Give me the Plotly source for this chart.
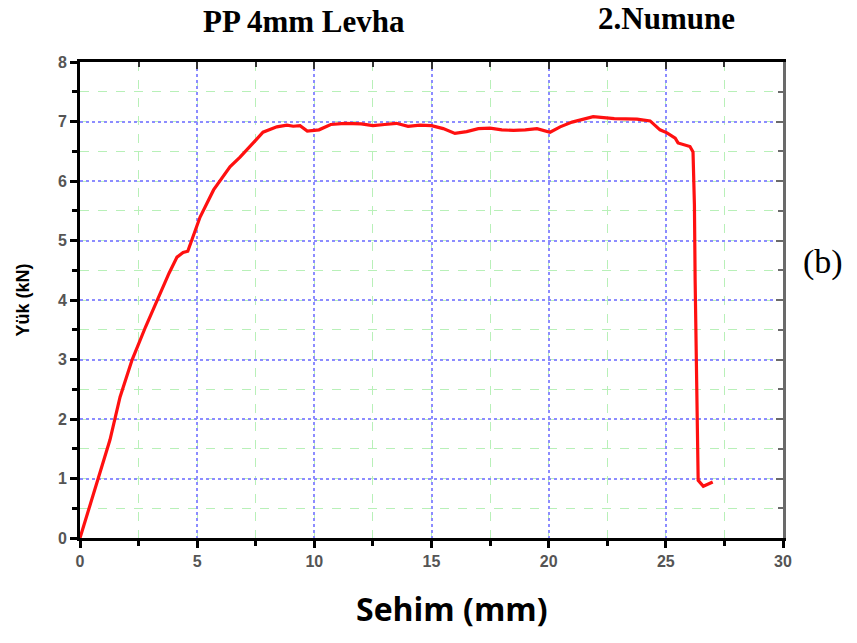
import plotly.graph_objects as go

# Yük - sehim eğrisi (PP 4mm Levha, 2. numune)
sehim_mm = [0, 0.5, 1.28, 1.71, 2.22, 2.8, 3.29, 3.8, 4.14, 4.4, 4.6, 5.12, 5.7,
            6.4, 6.83, 7.3, 7.81, 8.4, 8.83, 9.1, 9.39, 9.7, 10.2, 10.7, 11.3,
            12.0, 12.5, 13.0, 13.5, 14.0, 14.5, 15.0, 15.5, 16.0, 16.5, 17.0,
            17.5, 18.0, 18.5, 19.0, 19.5, 20.06, 20.49, 21.0, 21.9, 22.8, 23.77,
            24.33, 24.75, 25.05, 25.4, 25.52, 26.03, 26.16, 26.22, 26.25, 26.3,
            26.33, 26.38, 26.6, 27.0]
yuk_kN = [0, 0.65, 1.65, 2.37, 2.99, 3.55, 4.0, 4.45, 4.72, 4.8, 4.82, 5.39, 5.85,
          6.24, 6.4, 6.6, 6.82, 6.91, 6.94, 6.92, 6.93, 6.84, 6.86, 6.95, 6.97,
          6.96, 6.93, 6.95, 6.97, 6.92, 6.94, 6.93, 6.88, 6.8, 6.83, 6.88,
          6.89, 6.86, 6.85, 6.86, 6.88, 6.82, 6.91, 6.99, 7.08, 7.05, 7.04,
          7.01, 6.86, 6.81, 6.72, 6.64, 6.58, 6.49, 5.6, 4.34, 2.8,
          1.65, 0.97, 0.87, 0.94]

x_ticks = [0, 5, 10, 15, 20, 25, 30]
y_ticks = [0, 1, 2, 3, 4, 5, 6, 7, 8]

TICKFONT = dict(family="Liberation Sans, Arial, sans-serif", size=16, color="#555555",
                weight="bold")
SERIF = "Liberation Serif, Times New Roman, serif"
MAJOR_GRID = "#8c8cff"
MINOR_GRID = "#b8f0b8"

fig = go.Figure()
fig.add_trace(go.Scatter(
    x=sehim_mm, y=yuk_kN, mode="lines",
    line=dict(color="#ff1010", width=3.2),
    showlegend=False, hoverinfo="skip",
))
# görünmez iz: üst ve sağ eksenleri çizdirmek için
fig.add_trace(go.Scatter(x=[0], y=[0], xaxis="x2", yaxis="y2", mode="markers",
                         marker=dict(opacity=0), showlegend=False, hoverinfo="skip"))

# sayfa gövdesi 8px kaydırıyor, bu yüzden boyut ve kenar boşlukları ona göre
fig.update_layout(
    width=849, height=635,
    paper_bgcolor="white", plot_bgcolor="white",
    margin=dict(l=72, r=74, t=54, b=105),
    xaxis=dict(
        range=[0, 30], tickvals=x_ticks, tickfont=TICKFONT,
        showline=True, linecolor="black", linewidth=3,
        ticks="outside", ticklen=7, tickwidth=3, tickcolor="black",
        showgrid=True, gridcolor=MAJOR_GRID, griddash="dot", gridwidth=1.5,
        minor=dict(dtick=2.5, ticks="outside", ticklen=5, tickwidth=3, tickcolor="black",
                   showgrid=True, gridcolor=MINOR_GRID, griddash="dash", gridwidth=1.2),
        zeroline=False,
    ),
    yaxis=dict(
        range=[0, 8], tickvals=y_ticks, tickfont=TICKFONT,
        showline=True, linecolor="black", linewidth=3,
        ticks="outside", ticklen=7, tickwidth=3, tickcolor="black",
        showgrid=True, gridcolor=MAJOR_GRID, griddash="dot", gridwidth=1.5,
        minor=dict(dtick=0.5, ticks="outside", ticklen=5, tickwidth=3, tickcolor="black",
                   showgrid=True, gridcolor=MINOR_GRID, griddash="dash", gridwidth=1.2),
        zeroline=False,
    ),
    xaxis2=dict(
        overlaying="x", side="top", range=[0, 30], tickvals=x_ticks,
        showticklabels=False, showline=True, linecolor="black", linewidth=3,
        ticks="inside", ticklen=7, tickwidth=2, tickcolor="#333",
        minor=dict(dtick=2.5, ticks="inside", ticklen=5, tickwidth=2, tickcolor="#333"),
        showgrid=False, zeroline=False,
    ),
    yaxis2=dict(
        overlaying="y", side="right", range=[0, 8], tickvals=y_ticks,
        showticklabels=False, showline=True, linecolor="#6a6a6a", linewidth=3,
        ticks="inside", ticklen=7, tickwidth=2, tickcolor="#6a6a6a",
        minor=dict(dtick=0.5, ticks="inside", ticklen=5, tickwidth=2, tickcolor="#6a6a6a"),
        showgrid=False, zeroline=False,
    ),
    annotations=[
        dict(text="<b>PP 4mm Levha</b>", x=0.318, y=1.086, xref="paper", yref="paper",
             xanchor="center", yanchor="middle",
             showarrow=False, font=dict(family=SERIF, size=31, color="black")),
        dict(text="<b>2.Numune</b>", x=0.834, y=1.091, xref="paper", yref="paper",
             xanchor="center", yanchor="middle",
             showarrow=False, font=dict(family=SERIF, size=31, color="black")),
        dict(text="(b)", x=1.057, y=0.58, xref="paper", yref="paper",
             xanchor="center", yanchor="middle",
             showarrow=False, font=dict(family=SERIF, size=34, color="black")),
        dict(text="<b>Sehim (mm)</b>", x=0.529, y=-0.148, xref="paper", yref="paper",
             xanchor="center", yanchor="middle",
             showarrow=False, font=dict(family="Open Sans, sans-serif", size=32, color="black")),
        dict(text="<b>Yük (kN)</b>", x=-0.0805, y=0.5, xref="paper", yref="paper",
             xanchor="center", yanchor="middle", textangle=-90, showarrow=False,
             font=dict(family="Liberation Sans, Arial, sans-serif", size=18, color="black")),
    ],
)

fig.write_html("out.html")
